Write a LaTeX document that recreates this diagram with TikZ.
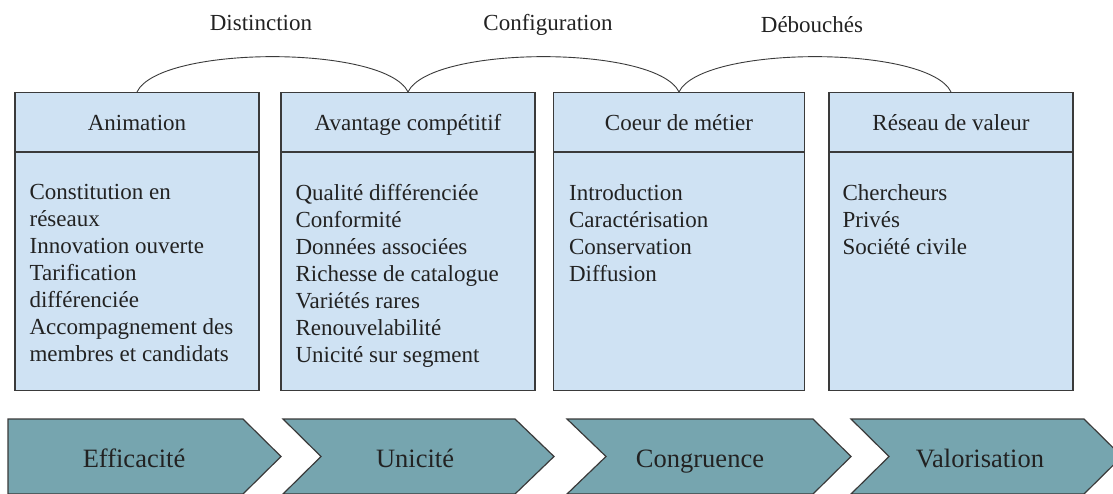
\documentclass[tikz,border=0pt]{standalone}
\usepackage{fontspec}
\setmainfont{Liberation Serif}
\definecolor{boxblue}{HTML}{CFE2F3}
\definecolor{chevteal}{HTML}{76A5AF}
\definecolor{edgegray}{HTML}{3A3A3A}
\definecolor{inkgray}{HTML}{222222}
\tikzset{headbox/.style={draw=edgegray, fill=boxblue, line width=1.2pt,
        minimum height=59pt, inner sep=0pt, text=inkgray,
        text height=18pt, text depth=0pt,
        font=\fontsize{23}{27}\selectfont},
    bodybox/.style={draw=edgegray, fill=boxblue, line width=1.2pt,
        minimum height=238pt, inner sep=0pt, anchor=north},
    bodytext/.style={anchor=north west, align=left, inner sep=0pt,
        text=inkgray, font=\fontsize{23}{27}\selectfont},
    toplabel/.style={text=inkgray, text height=16pt, text depth=0pt,
        font=\fontsize{23}{27}\selectfont},
    chevron/.style={draw=edgegray, fill=chevteal, line width=1.2pt},
    chevtext/.style={text=inkgray, text height=20pt, text depth=0pt,
        font=\fontsize{26.5}{30}\selectfont},
    }
\begin{document}
\begin{tikzpicture}[x=1pt, y=-1pt]
	\useasboundingbox (0,0) rectangle (1113,494);
	% column headers
	\node[headbox, minimum width=244pt] (ani) at (137,122) {Animation};
	\node[headbox, minimum width=254pt] (ava) at (408,122) {Avantage compétitif};
	\node[headbox, minimum width=251pt] (coe) at (679,122) {Coeur de métier};
	\node[headbox, minimum width=244pt] (res) at (951,122) {Réseau de valeur};
	% column bodies
	\node[bodybox, minimum width=244pt] (aniB) at (ani.south) {};
	\node[bodybox, minimum width=254pt] (avaB) at (ava.south) {};
	\node[bodybox, minimum width=251pt] (coeB) at (coe.south) {};
	\node[bodybox, minimum width=244pt] (resB) at (res.south) {};
	\node[bodytext] (aniT) at ([shift={(15,32)}]aniB.north west)
		{Constitution en\\réseaux\\Innovation ouverte\\Tarification\\différenciée\\Accompagnement des\\membres et candidats};
	\node[bodytext] (avaT) at ([shift={(15,32)}]avaB.north west)
		{Qualité différenciée\\Conformité\\Données associées\\Richesse de catalogue\\Variétés rares\\Renouvelabilité\\Unicité sur segment};
	\node[bodytext] (coeT) at ([shift={(16,32)}]coeB.north west)
		{Introduction\\Caractérisation\\Conservation\\Diffusion};
	\node[bodytext] (resT) at ([shift={(14,32)}]resB.north west)
		{Chercheurs\\Privés\\Société civile};
	% arcs and their labels
	\draw[edgegray, line width=0.9pt] (ani.north) .. controls +(23,-47) and +(-23,-47) .. (ava.north);
	\draw[edgegray, line width=0.9pt] (ava.north) .. controls +(23,-47) and +(-23,-47) .. (coe.north);
	\draw[edgegray, line width=0.9pt] (coe.north) .. controls +(23,-47) and +(-23,-47) .. (res.north);
	\node[toplabel] (dist) at (261,23) {Distinction};
	\node[toplabel] (conf) at (548,23) {Configuration};
	\node[toplabel] (debo) at (812,25) {Débouchés};
	% value chain
	\draw[chevron] (8,419) -- (243,419) -- (281,456.5) -- (243,494) -- (8,494) -- cycle;
	\draw[chevron] (283,419) -- (515,419) -- (554,456.5) -- (515,494) -- (283,494) -- (321,456.5) -- cycle;
	\draw[chevron] (567,419) -- (813,419) -- (851,456.5) -- (813,494) -- (567,494) -- (606,456.5) -- cycle;
	\draw[chevron] (851,419) -- (1084,419) -- (1122,456.5) -- (1084,494) -- (851,494) -- (889,456.5) -- cycle;
	\node[chevtext] (effi) at (134,457) {Efficacité};
	\node[chevtext] (unic) at (415,457) {Unicité};
	\node[chevtext] (cong) at (700,457) {Congruence};
	\node[chevtext] (valo) at (980,457) {Valorisation};
\end{tikzpicture}
\end{document}
